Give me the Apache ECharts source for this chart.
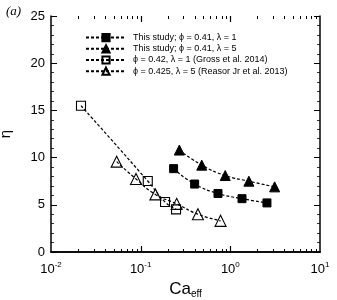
<!DOCTYPE html>
<html><head><meta charset="utf-8">
<script src="https://cdn.jsdelivr.net/npm/echarts@6/dist/echarts.min.js"></script>
<style>html,body{margin:0;padding:0;background:#fff}#c{width:337px;height:300px}</style>
</head><body><div id="c"></div>
<script>
// Data
const xStudy1 = [0.233, 0.40, 0.728, 1.35, 2.56];
const yStudy1 = [8.83, 7.2, 6.2, 5.65, 5.2];
const xStudy5 = [0.27, 0.48, 0.877, 1.61, 3.12];
const yStudy5 = [10.8, 9.2, 8.1, 7.5, 6.9];
const xGross = [0.0216, 0.12, 0.187, 0.248];
const yGross = [15.5, 7.52, 5.3, 4.52];
const xReasor = [0.054, 0.0887, 0.146, 0.252, 0.435, 0.778];
const yReasor = [9.57, 7.73, 6.1, 5.1, 4.0, 3.3];
const seriesNames = [
  'This study; \u03d5 = 0.41, \u03bb = 1',
  'This study; \u03d5 = 0.41, \u03bb = 5',
  '\u03d5 = 0.42, \u03bb = 1 (Gross et al. 2014)',
  '\u03d5 = 0.425, \u03bb = 5 (Reasor Jr et al. 2013)'
];
const xMinorTicks = [0.02,0.03,0.04,0.05,0.06,0.07,0.08,0.09,0.2,0.3,0.4,0.5,0.6,0.7,0.8,0.9,2,3,4,5,6,7,8,9];
const xMajorTicks = [0.1, 1];
const yMin = 0, yMax = 25;

const font = 'Liberation Sans, Arial, sans-serif';
const zip = (xs, ys) => xs.map((x, i) => [x, ys[i]]);
const lineStyle = {color: '#000', width: 1.2, type: [3, 2]};

function mkSeries(name, xs, ys, symbol, size, filled) {
  return {
    name, type: 'line', data: zip(xs, ys), smooth: 0.5,
    symbol, symbolSize: size, showSymbol: true,
    lineStyle: lineStyle,
    itemStyle: filled ? {color: '#000', borderColor: '#000', borderWidth: 1}
                      : {color: 'rgba(255,255,255,0)', borderColor: '#000', borderWidth: 1.1},
    emphasis: {disabled: true}, z: 3
  };
}

function tickSeries(values, len, width) {
  return {
    type: 'custom', silent: true, z: 5, clip: false,
    data: values.map(v => [v, yMin]),
    encode: {x: 0, y: 1},
    renderItem: (params, api) => {
      const v = api.value(0);
      const pb = api.coord([v, yMin]);
      const pt = api.coord([v, yMax]);
      const x = Math.round(pb[0]) + 0.5;
      const st = {stroke: '#000', lineWidth: width};
      return {type: 'group', children: [
        {type: 'line', shape: {x1: x, y1: pb[1], x2: x, y2: pb[1] - len}, style: st},
        {type: 'line', shape: {x1: x, y1: pt[1], x2: x, y2: pt[1] + len}, style: st}
      ]};
    }
  };
}

const chart = echarts.init(document.getElementById('c'));
chart.setOption({
  animation: false,
  backgroundColor: '#fff',
  title: {text: '(a)', left: 1, top: 0,
    textStyle: {fontFamily: 'Liberation Serif, DejaVu Serif, serif', fontStyle: 'italic', fontWeight: 'normal', fontSize: 13, color: '#000'}},
  grid: {left: 51, right: 17, top: 16, bottom: 48, outerBoundsMode: 'none', containLabel: false},
  legend: {
    data: seriesNames, orient: 'vertical', left: 80, top: 28,
    itemWidth: 40, itemHeight: 9, itemGap: 2,
    textStyle: {fontFamily: font, fontSize: 9, color: '#000', padding: [0, 0, 0, 2]},
    selectedMode: false
  },
  xAxis: [{
    type: 'log', logBase: 10, min: 0.01, max: 10, position: 'bottom',
    axisLine: {lineStyle: {color: '#000', width: 1.5}},
    axisTick: {show: false},
    splitLine: {show: false},
    axisLabel: {
      margin: 9, color: '#000', fontFamily: font, fontSize: 13,
      formatter: v => '10{sup|' + Math.round(Math.log10(v)) + '}',
      rich: {sup: {fontSize: 8, fontFamily: font, verticalAlign: 'top', padding: [0, 0, 8, 0], color: '#000'}}
    },
    name: 'Ca{sub|eff}', nameLocation: 'middle', nameGap: 24,
    nameTextStyle: {fontFamily: font, fontSize: 17, color: '#000',
      rich: {sub: {fontSize: 10, fontFamily: font, color: '#000', padding: [10, 0, 0, 0]}}}
  }, {
    type: 'log', logBase: 10, min: 0.01, max: 10, position: 'top',
    axisLine: {lineStyle: {color: '#000', width: 1.5}},
    axisTick: {show: false},
    splitLine: {show: false}, axisLabel: {show: false}
  }],
  yAxis: [{
    type: 'value', min: yMin, max: yMax, interval: 5, position: 'left',
    axisLine: {show: true, lineStyle: {color: '#000', width: 1.5}},
    axisTick: {show: true, inside: true, length: 6, lineStyle: {color: '#000', width: 1}},
    minorTick: {show: true, splitNumber: 5, length: 3, lineStyle: {color: '#000', width: 0.8}},
    splitLine: {show: false},
    axisLabel: {margin: 6, color: '#000', fontFamily: font, fontSize: 13},
    name: '\u03b7', nameLocation: 'middle', nameGap: 38, nameRotate: 90,
    nameTextStyle: {fontFamily: font, fontSize: 15, color: '#000'}
  }, {
    type: 'value', min: yMin, max: yMax, interval: 5, position: 'right',
    axisLine: {show: true, lineStyle: {color: '#000', width: 1.5}},
    axisTick: {show: true, inside: true, length: 6, lineStyle: {color: '#000', width: 1}},
    minorTick: {show: true, splitNumber: 5, length: 3, lineStyle: {color: '#000', width: 0.8}},
    splitLine: {show: false}, axisLabel: {show: false}
  }],
  series: [
    mkSeries(seriesNames[0], xStudy1, yStudy1, 'rect', 8, true),
    mkSeries(seriesNames[1], xStudy5, yStudy5, 'triangle', 10, true),
    mkSeries(seriesNames[2], xGross, yGross, 'rect', 9, false),
    mkSeries(seriesNames[3], xReasor, yReasor, 'triangle', 11, false),
    tickSeries(xMinorTicks, 3, 1),
    tickSeries(xMajorTicks, 6, 1.2)
  ]
});
</script></body></html>
